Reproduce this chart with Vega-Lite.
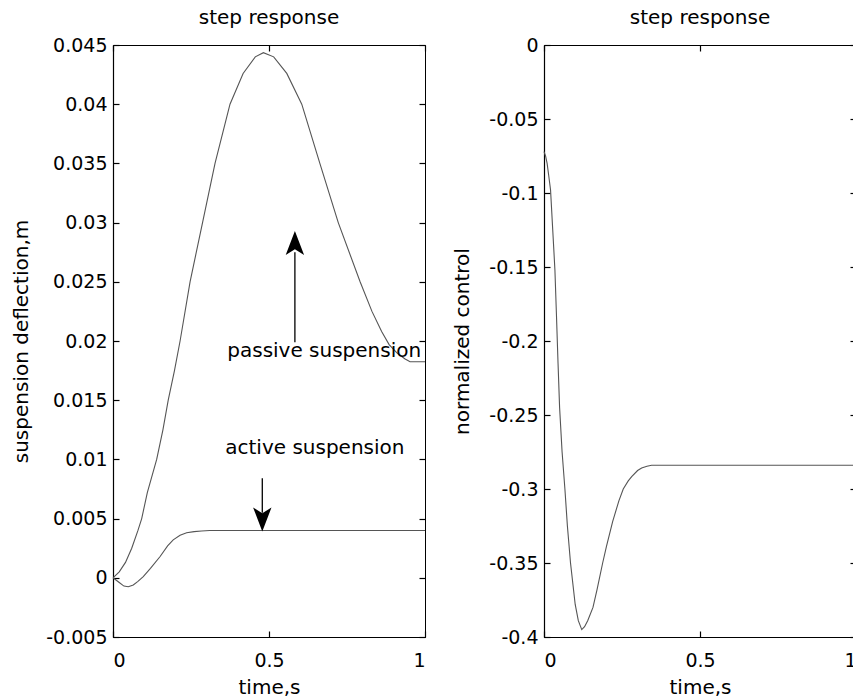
{
  "$schema": "https://vega.github.io/schema/vega-lite/v6.json",
  "background": "white",
  "padding": {"left": 11, "top": 7, "right": 0, "bottom": 0},
  "config": {
    "font": "DejaVu Sans",
    "view": {"stroke": "black", "strokeWidth": 1},
    "axis": {
      "domainColor": "black", "tickColor": "black", "labelColor": "black", "titleColor": "black",
      "labelFont": "DejaVu Sans", "titleFont": "DejaVu Sans", "labelFontSize": 19, "titleFontSize": 20,
      "titleFontWeight": "normal", "grid": false, "tickSize": -6, "labelPadding": 12, "domainWidth": 1.2, "tickWidth": 1.2
    },
    "axisX": {"labelPadding": 20, "titlePadding": 7},
    "axisY": {"titlePadding": 14},
    "title": {"font": "DejaVu Sans", "fontSize": 20, "fontWeight": "normal", "color": "black", "baseline": "alphabetic", "offset": 8}
  },
  "datasets": {
    "defl": [
      {"t": 0, "value": 0, "series": "passive"},
      {"t": 0.02, "value": 0.0005, "series": "passive"},
      {"t": 0.04, "value": 0.0013, "series": "passive"},
      {"t": 0.06, "value": 0.0025, "series": "passive"},
      {"t": 0.08, "value": 0.004, "series": "passive"},
      {"t": 0.092, "value": 0.005, "series": "passive"},
      {"t": 0.11, "value": 0.0072, "series": "passive"},
      {"t": 0.14, "value": 0.010, "series": "passive"},
      {"t": 0.16, "value": 0.0125, "series": "passive"},
      {"t": 0.177, "value": 0.015, "series": "passive"},
      {"t": 0.197, "value": 0.0175, "series": "passive"},
      {"t": 0.215, "value": 0.020, "series": "passive"},
      {"t": 0.247, "value": 0.025, "series": "passive"},
      {"t": 0.287, "value": 0.030, "series": "passive"},
      {"t": 0.327, "value": 0.035, "series": "passive"},
      {"t": 0.375, "value": 0.040, "series": "passive"},
      {"t": 0.417, "value": 0.0426, "series": "passive"},
      {"t": 0.456, "value": 0.0440, "series": "passive"},
      {"t": 0.482, "value": 0.04435, "series": "passive"},
      {"t": 0.515, "value": 0.0440, "series": "passive"},
      {"t": 0.557, "value": 0.0426, "series": "passive"},
      {"t": 0.605, "value": 0.040, "series": "passive"},
      {"t": 0.663, "value": 0.035, "series": "passive"},
      {"t": 0.722, "value": 0.030, "series": "passive"},
      {"t": 0.792, "value": 0.025, "series": "passive"},
      {"t": 0.83, "value": 0.0225, "series": "passive"},
      {"t": 0.861, "value": 0.0208, "series": "passive"},
      {"t": 0.885, "value": 0.0197, "series": "passive"},
      {"t": 0.91, "value": 0.0190, "series": "passive"},
      {"t": 0.935, "value": 0.0185, "series": "passive"},
      {"t": 0.952, "value": 0.01825, "series": "passive"},
      {"t": 1.0, "value": 0.01825, "series": "passive"},
      {"t": 0, "value": 0, "series": "active"},
      {"t": 0.02, "value": -0.0004, "series": "active"},
      {"t": 0.035, "value": -0.0007, "series": "active"},
      {"t": 0.049, "value": -0.00075, "series": "active"},
      {"t": 0.065, "value": -0.0006, "series": "active"},
      {"t": 0.08, "value": -0.0003, "series": "active"},
      {"t": 0.097, "value": 0.0001, "series": "active"},
      {"t": 0.12, "value": 0.0008, "series": "active"},
      {"t": 0.151, "value": 0.0018, "series": "active"},
      {"t": 0.175, "value": 0.0027, "series": "active"},
      {"t": 0.193, "value": 0.0032, "series": "active"},
      {"t": 0.215, "value": 0.0036, "series": "active"},
      {"t": 0.236, "value": 0.0038, "series": "active"},
      {"t": 0.26, "value": 0.0039, "series": "active"},
      {"t": 0.284, "value": 0.00395, "series": "active"},
      {"t": 0.31, "value": 0.004, "series": "active"},
      {"t": 1.0, "value": 0.004, "series": "active"}
    ],
    "arrows": [
      {"t": 0.583, "from": 0.0199, "to": 0.0275, "head": 0.0281, "dir": "up"},
      {"t": 0.4785, "from": 0.0084, "to": 0.0055, "head": 0.0051, "dir": "down"}
    ],
    "notes": [
      {"t": 0.677, "value": 0.01867, "label": "passive suspension"},
      {"t": 0.647, "value": 0.01046, "label": "active suspension"}
    ],
    "control": [
      {"t": 0, "value": -0.072},
      {"t": 0.005, "value": -0.075},
      {"t": 0.01, "value": -0.080},
      {"t": 0.015, "value": -0.088},
      {"t": 0.021, "value": -0.098},
      {"t": 0.028, "value": -0.125},
      {"t": 0.035, "value": -0.152},
      {"t": 0.04, "value": -0.183},
      {"t": 0.045, "value": -0.215},
      {"t": 0.05, "value": -0.245},
      {"t": 0.058, "value": -0.275},
      {"t": 0.067, "value": -0.300},
      {"t": 0.075, "value": -0.325},
      {"t": 0.085, "value": -0.350},
      {"t": 0.1, "value": -0.378},
      {"t": 0.11, "value": -0.389},
      {"t": 0.121, "value": -0.395},
      {"t": 0.13, "value": -0.393},
      {"t": 0.14, "value": -0.389},
      {"t": 0.157, "value": -0.380},
      {"t": 0.17, "value": -0.368},
      {"t": 0.188, "value": -0.350},
      {"t": 0.2, "value": -0.339},
      {"t": 0.22, "value": -0.322},
      {"t": 0.24, "value": -0.308},
      {"t": 0.254, "value": -0.300},
      {"t": 0.27, "value": -0.2945},
      {"t": 0.281, "value": -0.2917},
      {"t": 0.3, "value": -0.2875},
      {"t": 0.313, "value": -0.2858},
      {"t": 0.33, "value": -0.2846},
      {"t": 0.345, "value": -0.284},
      {"t": 1.0, "value": -0.284}
    ]
  },
  "hconcat": [
    {
      "width": 312,
      "height": 592,
      "title": {"text": "step response"},
      "layer": [
        {
          "data": {"name": "defl"},
          "mark": {"type": "line", "color": "#555", "strokeWidth": 1.1},
          "encoding": {
            "x": {"field": "t", "type": "quantitative", "scale": {"domain": [0, 1], "nice": false},
                  "axis": {"values": [0, 0.5, 1], "title": "time,s", "labelExpr": "replace(format(datum.value, '~g'), '\u2212', '-')"}},
            "y": {"field": "value", "type": "quantitative", "scale": {"domain": [-0.005, 0.045], "nice": false},
                  "axis": {"values": [-0.005, 0, 0.005, 0.01, 0.015, 0.02, 0.025, 0.03, 0.035, 0.04, 0.045], "title": "suspension deflection,m", "labelExpr": "replace(format(datum.value, '~g'), '\u2212', '-')"}},
            "detail": {"field": "series"}
          }
        },
        {
          "data": {"name": "defl"},
          "mark": {"type": "line", "strokeOpacity": 0},
          "encoding": {
            "x": {"field": "t", "type": "quantitative",
                  "axis": {"orient": "top", "values": [0, 0.5, 1], "labels": false, "title": null, "domain": false}},
            "y": {"field": "value", "type": "quantitative",
                  "axis": {"orient": "right", "values": [-0.005, 0, 0.005, 0.01, 0.015, 0.02, 0.025, 0.03, 0.035, 0.04, 0.045], "labels": false, "title": null, "domain": false}},
            "detail": {"field": "series"}
          }
        },
        {
          "data": {"name": "arrows"},
          "mark": {"type": "rule", "color": "black", "strokeWidth": 1.3},
          "encoding": {
            "x": {"field": "t", "type": "quantitative", "axis": null},
            "y": {"field": "from", "type": "quantitative", "axis": null},
            "y2": {"field": "to"}
          }
        },
        {
          "data": {"name": "arrows"},
          "mark": {"type": "point", "filled": true, "color": "black", "opacity": 1, "size": 800},
          "encoding": {
            "x": {"field": "t", "type": "quantitative", "axis": null},
            "y": {"field": "head", "type": "quantitative", "axis": null},
            "shape": {"field": "dir", "type": "nominal", "legend": null,
                      "scale": {"domain": ["up", "down"], "range": ["M0,-1L0.65,0.7L0,0.3L-0.65,0.7Z", "M0,1L0.65,-0.7L0,-0.3L-0.65,-0.7Z"]}}
          }
        },
        {
          "data": {"name": "notes"},
          "mark": {"type": "text", "font": "DejaVu Sans", "fontSize": 20, "color": "black", "align": "center", "baseline": "alphabetic"},
          "encoding": {
            "x": {"field": "t", "type": "quantitative", "axis": null},
            "y": {"field": "value", "type": "quantitative", "axis": null},
            "text": {"field": "label"}
          }
        }
      ],
      "resolve": {"axis": {"x": "independent", "y": "independent"}}
    },
    {
      "width": 312,
      "height": 592,
      "title": {"text": "step response"},
      "data": {"name": "control"},
      "layer": [
        {
          "mark": {"type": "line", "color": "#555", "strokeWidth": 1.1},
          "encoding": {
            "x": {"field": "t", "type": "quantitative", "scale": {"domain": [0, 1], "nice": false},
                  "axis": {"values": [0, 0.5, 1], "title": "time,s", "labelExpr": "replace(format(datum.value, '~g'), '\u2212', '-')"}},
            "y": {"field": "value", "type": "quantitative", "scale": {"domain": [-0.4, 0], "nice": false},
                  "axis": {"values": [-0.4, -0.35, -0.3, -0.25, -0.2, -0.15, -0.1, -0.05, 0], "title": "normalized control", "titlePadding": 16, "labelExpr": "replace(format(datum.value, '~g'), '\u2212', '-')"}}
          }
        },
        {
          "mark": {"type": "line", "strokeOpacity": 0},
          "encoding": {
            "x": {"field": "t", "type": "quantitative",
                  "axis": {"orient": "top", "values": [0, 0.5, 1], "labels": false, "title": null, "domain": false}},
            "y": {"field": "value", "type": "quantitative",
                  "axis": {"orient": "right", "values": [-0.4, -0.35, -0.3, -0.25, -0.2, -0.15, -0.1, -0.05, 0], "labels": false, "title": null, "domain": false}}
          }
        }
      ],
      "resolve": {"axis": {"x": "independent", "y": "independent"}}
    }
  ],
  "spacing": 119,
  "bounds": "flush"
}
